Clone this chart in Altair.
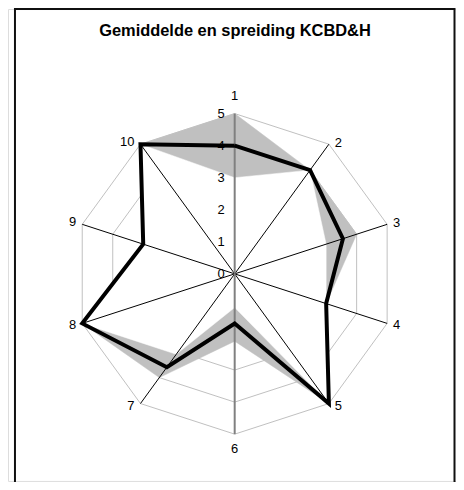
import altair as alt
import pandas as pd

# ---- data ----
categories = ["1", "2", "3", "4", "5", "6", "7", "8", "9", "10"]
mean_vals = [4.0, 4.0, 3.55, 3.0, 5.0, 1.55, 3.6, 5.0, 3.0, 5.0]
low_vals = [3.0, 4.0, 3.0, 3.0, 5.0, 1.05, 3.1, 5.0, 3.0, 5.0]
high_vals = [5.0, 4.0, 4.0, 3.0, 5.0, 2.1, 4.0, 5.0, 3.0, 5.0]
tick_values = [0, 1, 2, 3, 4, 5]
ring_levels = [1, 2, 3, 4, 5]
title_text = "Gemiddelde en spreiding KCBD&H"

n = len(categories)
FONT = "Liberation Sans"

# closed polygon table (first point repeated at the end)
poly = pd.DataFrame({
    "idx": list(range(n + 1)),
    "axis": [categories[k % n] for k in range(n + 1)],
    "mean": [mean_vals[k % n] for k in range(n + 1)],
    "low": [low_vals[k % n] for k in range(n + 1)],
    "high": [high_vals[k % n] for k in range(n + 1)],
})
rings = pd.DataFrame([{"level": lv, "idx": k} for lv in ring_levels for k in range(n + 1)])
axes_df = pd.DataFrame({"idx": list(range(n)), "axis": categories})
ticks_df = pd.DataFrame({"v": tick_values, "label": [str(t) for t in tick_values]})
one = pd.DataFrame({"a": [0]})

ang = "2*PI*datum.idx/" + str(n)
xs = alt.Scale(domain=[-5, 5], range=[66.7, 388.7])
ys = alt.Scale(domain=[-5, 5], range=[427, 105])

def X(f):
    return alt.X(f, type="quantitative", scale=xs, axis=None)

def Y(f):
    return alt.Y(f, type="quantitative", scale=ys, axis=None)

base_poly = alt.Chart(poly).transform_calculate(
    a=ang,
    mx="datum.mean*sin(datum.a)", my="datum.mean*cos(datum.a)",
    lx="datum.low*sin(datum.a)", ly="datum.low*cos(datum.a)",
    hx="datum.high*sin(datum.a)", hy="datum.high*cos(datum.a)",
)

ring_layer = alt.Chart(rings).transform_calculate(
    a=ang, rx="datum.level*sin(datum.a)", ry="datum.level*cos(datum.a)"
).mark_line(stroke="#c0c0c0", strokeWidth=1).encode(
    x=X("rx"), y=Y("ry"), detail="level:N", order="idx:Q"
)

high_layer = base_poly.mark_line(fill="#c0c0c0", stroke="#c0c0c0", strokeWidth=0.5).encode(
    x=X("hx"), y=Y("hy"), order="idx:Q"
)
low_layer = base_poly.mark_line(fill="white", stroke="white", strokeWidth=0.5).encode(
    x=X("lx"), y=Y("ly"), order="idx:Q"
)

spokes_base = alt.Chart(axes_df).transform_calculate(
    a=ang, ex="5*sin(datum.a)", ey="5*cos(datum.a)", zx="0", zy="0"
)
spokes_black = spokes_base.transform_filter(
    "datum.axis != '1' && datum.axis != '6'"
).mark_rule(stroke="black", strokeWidth=1).encode(
    x=X("zx"), y=Y("zy"), x2="ex:Q", y2="ey:Q"
)
spokes_gray = spokes_base.transform_filter(
    "datum.axis == '1' || datum.axis == '6'"
).mark_rule(stroke="#808080", strokeWidth=2).encode(
    x=X("zx"), y=Y("zy"), x2="ex:Q", y2="ey:Q"
)

tick_layer = alt.Chart(ticks_df).transform_calculate(zx="0").mark_text(
    align="right", baseline="middle", dx=-10, fontSize=13, font=FONT, color="black"
).encode(x=X("zx"), y=Y("v"), text="label:N")

mean_layer = base_poly.mark_line(stroke="black", strokeWidth=4, strokeJoin="miter").encode(
    x=X("mx"), y=Y("my"), order="idx:Q"
)

lab_base = alt.Chart(axes_df).transform_calculate(
    a=ang, ex="5*sin(datum.a)", ey="5*cos(datum.a)"
)

def lab(filt, **kw):
    return lab_base.transform_filter(filt).mark_text(
        fontSize=13, font=FONT, color="black", **kw
    ).encode(x=X("ex"), y=Y("ey"), text="axis:N")

labels = [
    lab("datum.idx == 0", align="center", baseline="alphabetic", dy=-14),
    lab("datum.idx == 5", align="center", baseline="top", dy=9),
    lab("datum.idx == 1 || datum.idx == 2", align="left", baseline="middle", dx=6, dy=-1),
    lab("datum.idx == 3 || datum.idx == 4", align="left", baseline="middle", dx=6, dy=2),
    lab("datum.idx == 6 || datum.idx == 7", align="right", baseline="middle", dx=-6, dy=2),
    lab("datum.idx == 8 || datum.idx == 9", align="right", baseline="middle", dx=-6, dy=-2),
]

title_layer = alt.Chart(one).mark_text(
    text=title_text, fontSize=16.5, fontWeight="bold", font=FONT, color="black",
    align="center", baseline="alphabetic"
).encode(x=alt.value(228), y=alt.value(27.5))

frame = alt.Chart(one).mark_rect(
    fill=None, fillOpacity=0, stroke="#101010", strokeWidth=2
).encode(x=alt.value(7), x2=alt.value(448.5), y=alt.value(0), y2=alt.value(520))

chart = alt.layer(
    frame, ring_layer, high_layer, low_layer, spokes_black, spokes_gray,
    tick_layer, mean_layer, *labels, title_layer
).properties(
    width=450, height=474, padding=0, autosize=alt.AutoSizeParams(type="none")
).configure_view(stroke=None).configure(background="white")

chart.save("out.html", embed_options={"renderer": "svg", "actions": False})
